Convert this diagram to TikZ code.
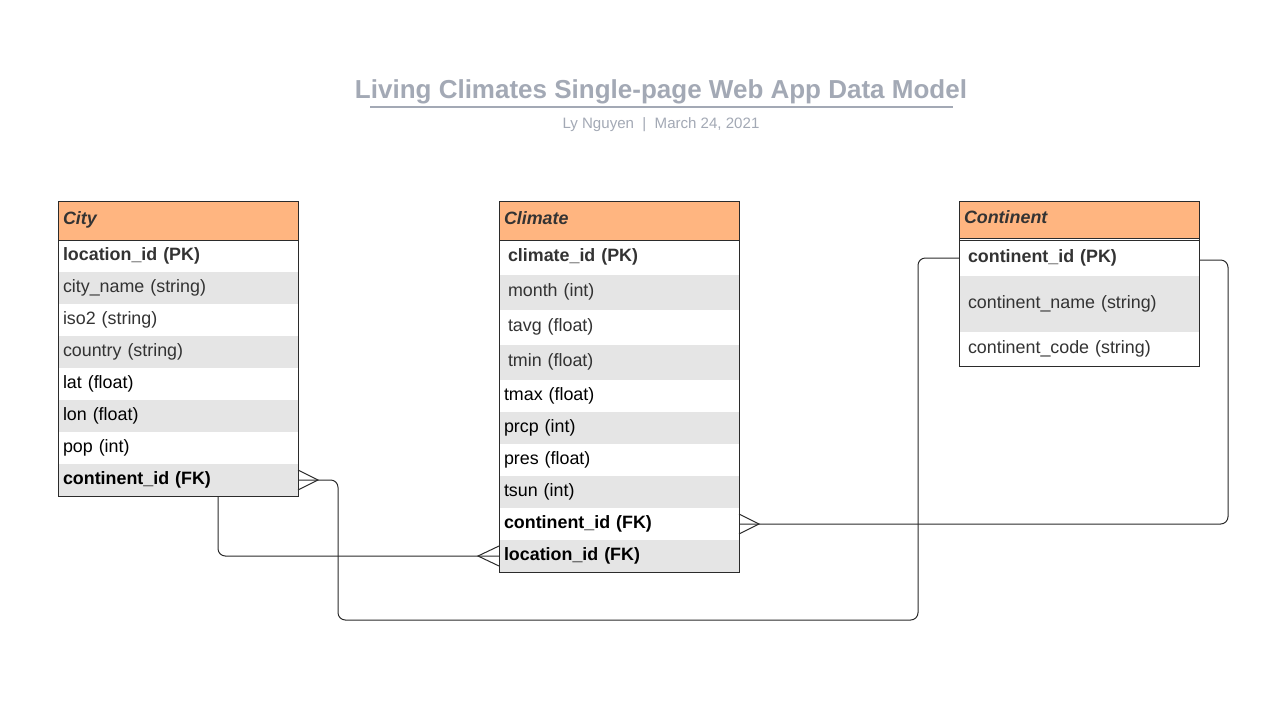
\documentclass[tikz,border=0pt]{standalone}
\usepackage{fontspec}
\setmainfont{Liberation Sans}
\usetikzlibrary{calc}
\definecolor{hdr}{HTML}{FFB580}
\definecolor{alt}{HTML}{E5E5E5}
\definecolor{txt}{HTML}{333333}
\definecolor{ttl}{HTML}{A3A9B5}
\definecolor{frm}{HTML}{2B2B2B}
\begin{document}
\begin{tikzpicture}[x=0.75pt,y=-0.75pt,
  cell/.style={anchor=north west, inner xsep=3.75pt, inner ysep=0pt, outer sep=0pt,
    text width=172.5pt, text height=10pt, text depth=3.4pt,
    align=left, font=\fontsize{13.4}{16}\selectfont, minimum height=#1, text=txt},
  hcell/.style={cell=#1, fill=hdr, font=\fontsize{13.4}{16}\selectfont\bfseries\itshape},
  grey/.style={fill=alt},
  blk/.style={text=black},
  frame/.style={draw=frm, line width=0.75pt},
  conn/.style={draw=frm, line width=0.75pt, rounded corners=5.5pt},
  foot/.style={draw=frm, line width=0.75pt}
]
\useasboundingbox[fill=white] (0,0) rectangle (1282,701);

% title
\node[anchor=base, font=\fontsize{19.5}{23}\selectfont\bfseries, text=ttl] (title) at (661,98)
  {Living Climates Single-page Web App Data Model};
\coordinate (ul1) at (370,107);
\coordinate (ul2) at (953,107);
\draw[ttl, line width=1.5pt] (ul1) -- (ul2);
\node[anchor=base, font=\fontsize{11.3}{14}\selectfont, text=ttl] (subtitle) at (661,128)
  {Ly Nguyen~~|~~March 24, 2021};

% City table
\node[hcell=29.25pt] (ch) at (58,201) {City};
\node[cell=24pt, font=\fontsize{13.4}{16}\selectfont\bfseries] (c1) at (ch.south west) {location\_id (PK)};
\node[cell=24pt, grey] (c2) at (c1.south west) {city\_name (string)};
\node[cell=24pt] (c3) at (c2.south west) {iso2 (string)};
\node[cell=24pt, grey] (c4) at (c3.south west) {country (string)};
\node[cell=24pt, blk] (c5) at (c4.south west) {lat (float)};
\node[cell=24pt, grey, blk] (c6) at (c5.south west) {lon (float)};
\node[cell=24pt, blk] (c7) at (c6.south west) {pop (int)};
\node[cell=24pt, grey, blk, font=\fontsize{13.4}{16}\selectfont\bfseries] (c8) at (c7.south west) {continent\_id (FK)};
\draw[frame] (ch.north west) rectangle (c8.south east);
\draw[frame] (ch.south west) -- (ch.south east);

% Climate table
\node[hcell=29.25pt] (mh) at (499,201) {Climate};
\node[cell=26.25pt, font=\fontsize{13.4}{16}\selectfont\bfseries] (m1) at (mh.south west) {\hspace*{3pt}climate\_id (PK)};
\node[cell=26.25pt, grey] (m2) at (m1.south west) {\hspace*{3pt}month (int)};
\node[cell=26.25pt] (m3) at (m2.south west) {\hspace*{3pt}tavg (float)};
\node[cell=26.25pt, grey] (m4) at (m3.south west) {\hspace*{3pt}tmin (float)};
\node[cell=24pt, blk] (m5) at (m4.south west) {tmax (float)};
\node[cell=24pt, grey, blk] (m6) at (m5.south west) {prcp (int)};
\node[cell=24pt, blk] (m7) at (m6.south west) {pres (float)};
\node[cell=24pt, grey, blk] (m8) at (m7.south west) {tsun (int)};
\node[cell=24pt, blk, font=\fontsize{13.4}{16}\selectfont\bfseries] (m9) at (m8.south west) {continent\_id (FK)};
\node[cell=24pt, grey, blk, font=\fontsize{13.4}{16}\selectfont\bfseries] (m10) at (m9.south west) {location\_id (FK)};
\draw[frame] (mh.north west) rectangle (m10.south east);
\draw[frame] (mh.south west) -- (mh.south east);

% Continent table
\node[hcell=27.75pt] (kh) at (959,201) {Continent};
\node[cell=27pt, font=\fontsize{13.4}{16}\selectfont\bfseries] (k1) at ($(kh.south west)+(0,2)$) {\hspace*{3pt}continent\_id (PK)};
\node[cell=42pt, grey] (k2) at (k1.south west) {\hspace*{3pt}continent\_name (string)};
\node[cell=25.5pt] (k3) at (k2.south west) {\hspace*{3pt}continent\_code (string)};
\draw[frame] (kh.north west) rectangle (k3.south east);
\draw[frame] (kh.south west) -- (kh.south east);
\draw[frame] ($(kh.south west)+(0,2)$) -- ($(kh.south east)+(0,2)$);

% Connector 1: City.continent_id -> Continent.continent_id
\coordinate (f1) at ($(c8.east)+(20,0)$);
\draw[foot] ($(c8.east)+(0,-10)$) -- (f1) -- ($(c8.east)+(0,10)$);
\coordinate (r1a) at (338,620);
\coordinate (r1b) at (918,620);
\draw[conn] (c8.east) -- (f1) -| (r1a) -- (r1b) |- (k1.west);

% Connector 2: City -> Climate.location_id
\coordinate (s2) at ($(c8.south west)+(160,0)$);
\coordinate (f2) at ($(m10.west)+(-21,0)$);
\draw[foot] ($(m10.west)+(0,-10)$) -- (f2) -- ($(m10.west)+(0,10)$);
\draw[conn] (s2) |- (f2) -- (m10.west);

% Connector 3: Climate.continent_id -> Continent.continent_id
\coordinate (f3) at ($(m9.east)+(20,0)$);
\draw[foot] ($(m9.east)+(0,-10)$) -- (f3) -- ($(m9.east)+(0,10)$);
\coordinate (r3) at (1228,400);
\draw[conn] (m9.east) -- (f3) -| (r3) |- ($(k1.east)+(0,2)$);
\end{tikzpicture}
\end{document}
